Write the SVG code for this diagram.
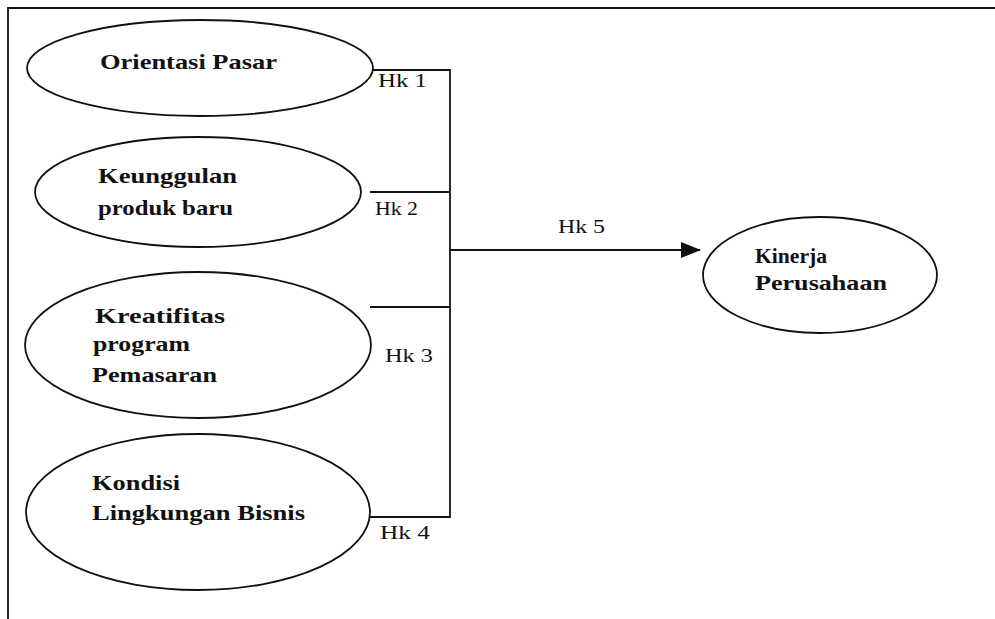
<svg xmlns="http://www.w3.org/2000/svg" width="995" height="619" viewBox="0 0 995 619">
<style>
.node ellipse{fill:#fff;stroke:#111;stroke-width:1.8}
.lbl{font-family:"Liberation Serif",serif;font-weight:bold;font-size:21px;fill:#111}
.hk{font-family:"Liberation Serif",serif;font-size:19px;fill:#111}
.con{fill:none;stroke:#111;stroke-width:1.8}
</style>
<defs>
<marker id="ah" markerWidth="20" markerHeight="16" refX="19" refY="8" orient="auto" markerUnits="userSpaceOnUse">
<path d="M0,0 L20,8 L0,16 Z" fill="#111"/>
</marker>
</defs>
<rect width="995" height="619" fill="#fff"/>
<path class="con" d="M8,619 V8 H995"/>
<g id="connectors">
<path class="con" d="M373,70 H450 V517 H370"/>
<path class="con" d="M370,192 H450"/>
<path class="con" d="M370,307 H450"/>
<path class="con" d="M450,250 H700" marker-end="url(#ah)"/>
<text class="hk" x="378" y="87" textLength="49" lengthAdjust="spacingAndGlyphs">Hk 1</text>
<text class="hk" x="375" y="215" textLength="43" lengthAdjust="spacingAndGlyphs">Hk 2</text>
<text class="hk" x="385" y="362" textLength="48" lengthAdjust="spacingAndGlyphs">Hk 3</text>
<text class="hk" x="380" y="539" textLength="50" lengthAdjust="spacingAndGlyphs">Hk 4</text>
<text class="hk" x="558" y="233" textLength="47" lengthAdjust="spacingAndGlyphs">Hk 5</text>
</g>
<g id="orientasi" class="node">
<ellipse cx="200" cy="68" rx="173" ry="48"/>
<text class="lbl" x="100" y="69" textLength="177" lengthAdjust="spacingAndGlyphs">Orientasi  Pasar</text>
</g>
<g id="keunggulan" class="node">
<ellipse cx="198" cy="192" rx="163" ry="55"/>
<text class="lbl" x="98" y="183" textLength="139" lengthAdjust="spacingAndGlyphs">Keunggulan</text>
<text class="lbl" x="98" y="215" textLength="135" lengthAdjust="spacingAndGlyphs">produk baru</text>
</g>
<g id="kreatifitas" class="node">
<ellipse cx="198" cy="345" rx="173" ry="73"/>
<text class="lbl" x="95" y="323" textLength="130" lengthAdjust="spacingAndGlyphs">Kreatifitas</text>
<text class="lbl" x="93" y="351" textLength="97" lengthAdjust="spacingAndGlyphs">program</text>
<text class="lbl" x="92" y="382" textLength="125" lengthAdjust="spacingAndGlyphs">Pemasaran</text>
</g>
<g id="kondisi" class="node">
<ellipse cx="198" cy="512" rx="172" ry="78"/>
<text class="lbl" x="92" y="490" textLength="88" lengthAdjust="spacingAndGlyphs">Kondisi</text>
<text class="lbl" x="92" y="520" textLength="213" lengthAdjust="spacingAndGlyphs">Lingkungan Bisnis</text>
</g>
<g id="kinerja" class="node">
<ellipse cx="820" cy="275" rx="117" ry="58"/>
<text class="lbl" x="755" y="263" textLength="72" lengthAdjust="spacingAndGlyphs">Kinerja</text>
<text class="lbl" x="755" y="290" textLength="132" lengthAdjust="spacingAndGlyphs">Perusahaan</text>
</g>
</svg>
